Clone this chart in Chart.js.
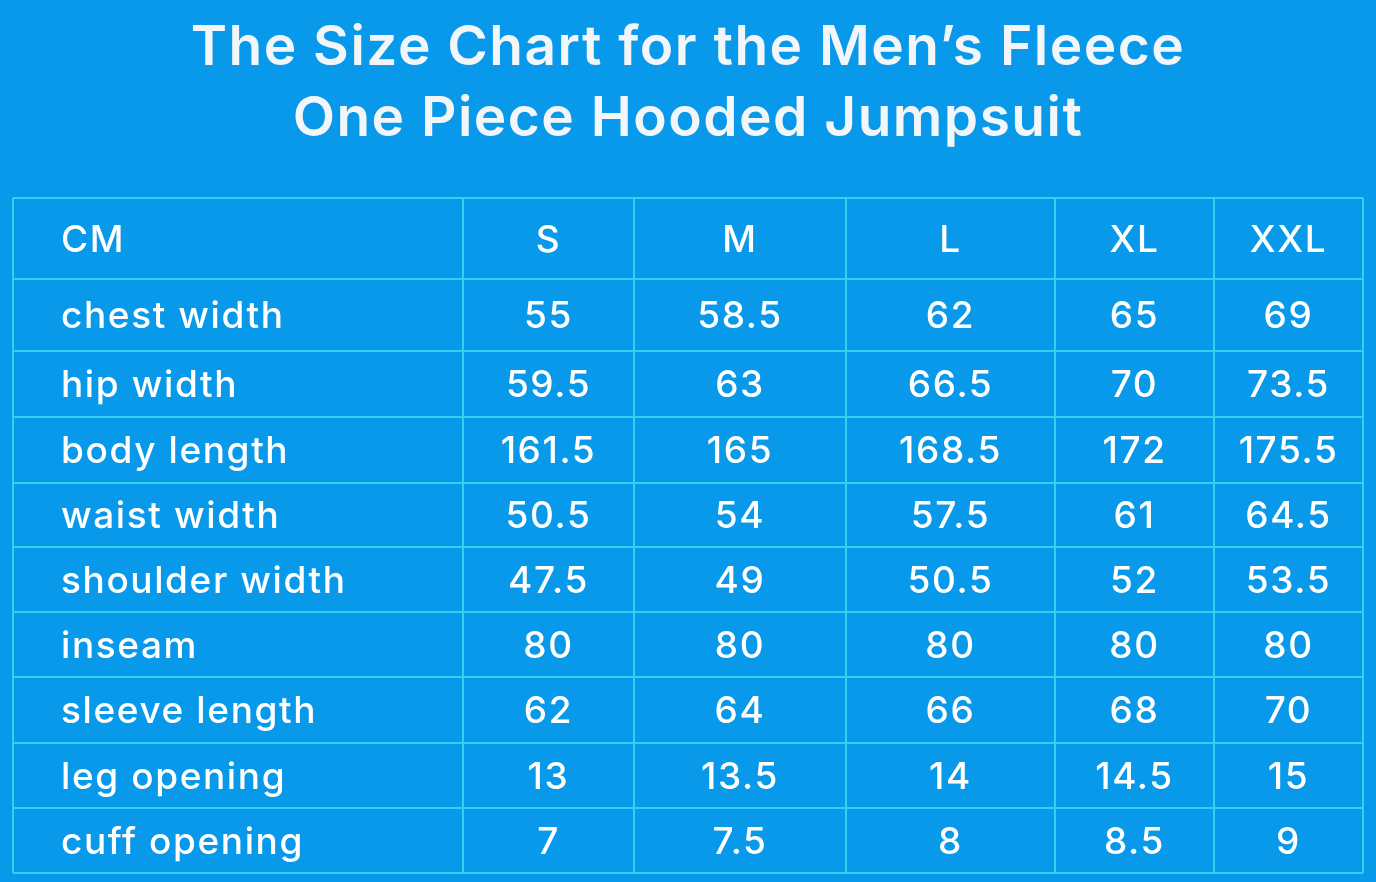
<!DOCTYPE html>
<html><head><meta charset="utf-8">
<script src="https://cdn.jsdelivr.net/npm/chart.js@4"></script>
<style>html,body{margin:0;padding:0;background:#0899ea;}#c{display:block;}</style>
</head><body>
<div style="width:1376px;height:882px"><canvas id="c"></canvas></div>
<script>
const titleLines = ["The Size Chart for the Men\u2019s Fleece", "One Piece Hooded Jumpsuit"];
const headerLabel = "CM";
const sizes = ["S", "M", "L", "XL", "XXL"];
const measures = ["chest width","hip width","body length","waist width","shoulder width","inseam","sleeve length","leg opening","cuff opening"];
const sizeS   = ["55","59.5","161.5","50.5","47.5","80","62","13","7"];
const sizeM   = ["58.5","63","165","54","49","80","64","13.5","7.5"];
const sizeL   = ["62","66.5","168.5","57.5","50.5","80","66","14","8"];
const sizeXL  = ["65","70","172","61","52","80","68","14.5","8.5"];
const sizeXXL = ["69","73.5","175.5","64.5","53.5","80","70","15","9"];
const columns = [sizeS, sizeM, sizeL, sizeXL, sizeXXL];

// layout styles
const colWidths = [450, 171, 212, 209, 159, 149];
const rowHeights = [81, 72, 66, 66, 65, 65, 65, 66, 65, 65];
const colEdges = colWidths.reduce((a,w)=>{a.push(a[a.length-1]+w);return a;},[0]);
const rowEdges = rowHeights.reduce((a,h)=>{a.push(a[a.length-1]+h);return a;},[0]);
const lineColor = "#2fd3f2";
const font = "Inter, 'Noto Sans', sans-serif";

const tablePlugin = {
  id: 'table',
  beforeDraw(chart){
    const ctx = chart.ctx;
    ctx.save(); ctx.fillStyle = '#0899ea'; ctx.fillRect(0,0,chart.width,chart.height); ctx.restore();
  },
  afterDraw(chart){
    const ctx = chart.ctx, xs = chart.scales.x, ys = chart.scales.y;
    ctx.save();
    // title
    ctx.fillStyle = '#f2f6f8';
    ctx.font = "600 55px " + font;
    ctx.letterSpacing = "1.5px";
    ctx.textAlign = 'center'; ctx.textBaseline = 'middle';
    titleLines.forEach((t,i)=>ctx.fillText(t, chart.width/2, 48 + i*71));
    // cells
    ctx.fillStyle = '#ffffff';
    ctx.font = "500 37px " + font;
    ctx.letterSpacing = "1.6px";
    const cy = i => (ys.getPixelForValue(rowEdges[i]) + ys.getPixelForValue(rowEdges[i+1]))/2 + 2;
    const cx = j => (xs.getPixelForValue(colEdges[j]) + xs.getPixelForValue(colEdges[j+1]))/2;
    const lx = xs.getPixelForValue(colEdges[0]) + 48;
    ctx.textAlign = 'left';
    ctx.fillText(headerLabel, lx, cy(0));
    measures.forEach((m,i)=>ctx.fillText(m, lx, cy(i+1)));
    ctx.textAlign = 'center';
    sizes.forEach((s,j)=>{
      ctx.fillText(s, cx(j+1), cy(0));
      columns[j].forEach((v,i)=>ctx.fillText(v, cx(j+1), cy(i+1)));
    });
    ctx.restore();
  }
};

new Chart(document.getElementById('c'), {
  type: 'scatter',
  data: { datasets: [{ data: [] }] },
  options: {
    responsive: true, maintainAspectRatio: false, animation: false,
    layout: { padding: { left: 13, right: 13, bottom: 9, top: 0 } },
    plugins: {
      legend: { display: false }, tooltip: { enabled: false },
      title: { display: true, text: titleLines, color: 'rgba(0,0,0,0)',
        font: { family: font, size: 50, weight: '600', lineHeight: 1.42 },
        padding: { top: 10, bottom: 46 } }
    },
    scales: {
      x: { type: 'linear', min: 0, max: colEdges[colEdges.length-1],
        afterBuildTicks: s => { s.ticks = colEdges.map(v=>({value:v})); },
        ticks: { display: false },
        grid: { color: lineColor, lineWidth: 2, drawTicks: false },
        border: { display: false } },
      y: { type: 'linear', reverse: true, min: 0, max: rowEdges[rowEdges.length-1],
        afterBuildTicks: s => { s.ticks = rowEdges.map(v=>({value:v})); },
        ticks: { display: false },
        grid: { color: lineColor, lineWidth: 2, drawTicks: false },
        border: { display: false } }
    }
  },
  plugins: [tablePlugin]
});
</script>
</body></html>
